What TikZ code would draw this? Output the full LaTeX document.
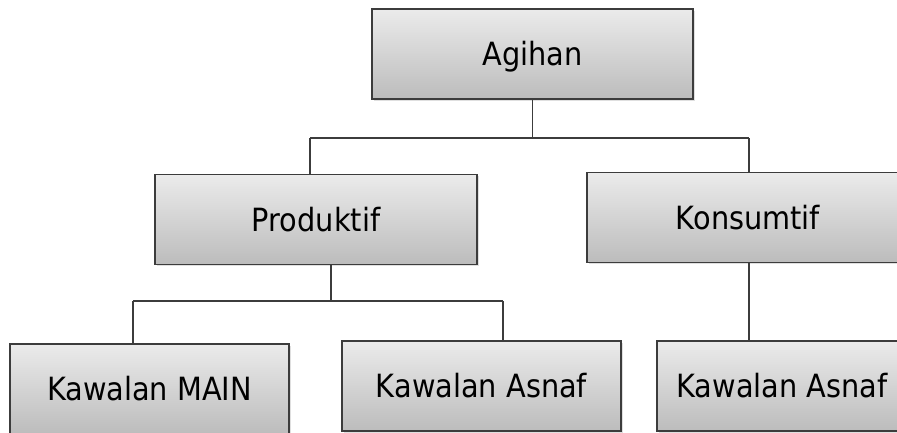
\documentclass[tikz,border=0pt]{standalone}
\usepackage{fontspec}
\setmainfont{DejaVu Sans}[FakeStretch=0.9]
\usetikzlibrary{shadows}
\definecolor{boxline}{HTML}{3C3C3C}
\definecolor{boxtop}{HTML}{EBEBEB}
\definecolor{boxbottom}{HTML}{BCBCBC}

\begin{document}
\begin{tikzpicture}[x=1pt,y=-1pt]

                \tikzset{box/.style = {shape=rectangle,draw=boxline,line width=1.4pt,
                    top color=boxtop,bottom color=boxbottom,
                    drop shadow={shadow xshift=1.5pt,shadow yshift=-1.5pt,opacity=0.25},
                    minimum height=90pt,inner sep=0pt,
                    font=\fontsize{32}{36}\selectfont,text height=23.3pt,text depth=0pt}}
                \tikzset{link/.style = {draw=boxline,line width=1.3pt}}
                \useasboundingbox (0,0) rectangle (897,432);

                \node[box,minimum width=321pt] (agihan) at (532.5, 54) {Agihan};
                \node[box,minimum width=322pt] (produktif) at (316, 219.5) {Produktif};
                \node[box,minimum width=322pt] (konsumtif) at (748, 217.5) {Konsumtif};
                \node[box,minimum width=279pt] (main) at (149.5, 389) {Kawalan MAIN};
                \node[box,minimum width=279pt] (asnafP) at (481.5, 386) {Kawalan Asnaf};
                \node[box,minimum width=250pt] (asnafK) at (782, 386) {Kawalan Asnaf};

                \coordinate (busAl) at (310, 138);
                \coordinate (busAr) at (749, 138);
                \coordinate (busPl) at (133, 301);
                \coordinate (busPr) at (503, 301);
                \coordinate (busPm) at (331, 301);

                \draw[link] (agihan.south) to (agihan.south |- busAl);
                \draw[link] (busAl) to (busAr);
                \draw[link] (busAl) to (busAl |- produktif.north);
                \draw[link] (busAr) to (busAr |- konsumtif.north);

                \draw[link] (busPm |- produktif.south) to (busPm);
                \draw[link] (busPl) to (busPr);
                \draw[link] (busPl) to (busPl |- main.north);
                \draw[link] (busPr) to (busPr |- asnafP.north);

                \draw[link] (busAr |- konsumtif.south) to (busAr |- asnafK.north);
            \end{tikzpicture}
\end{document}
